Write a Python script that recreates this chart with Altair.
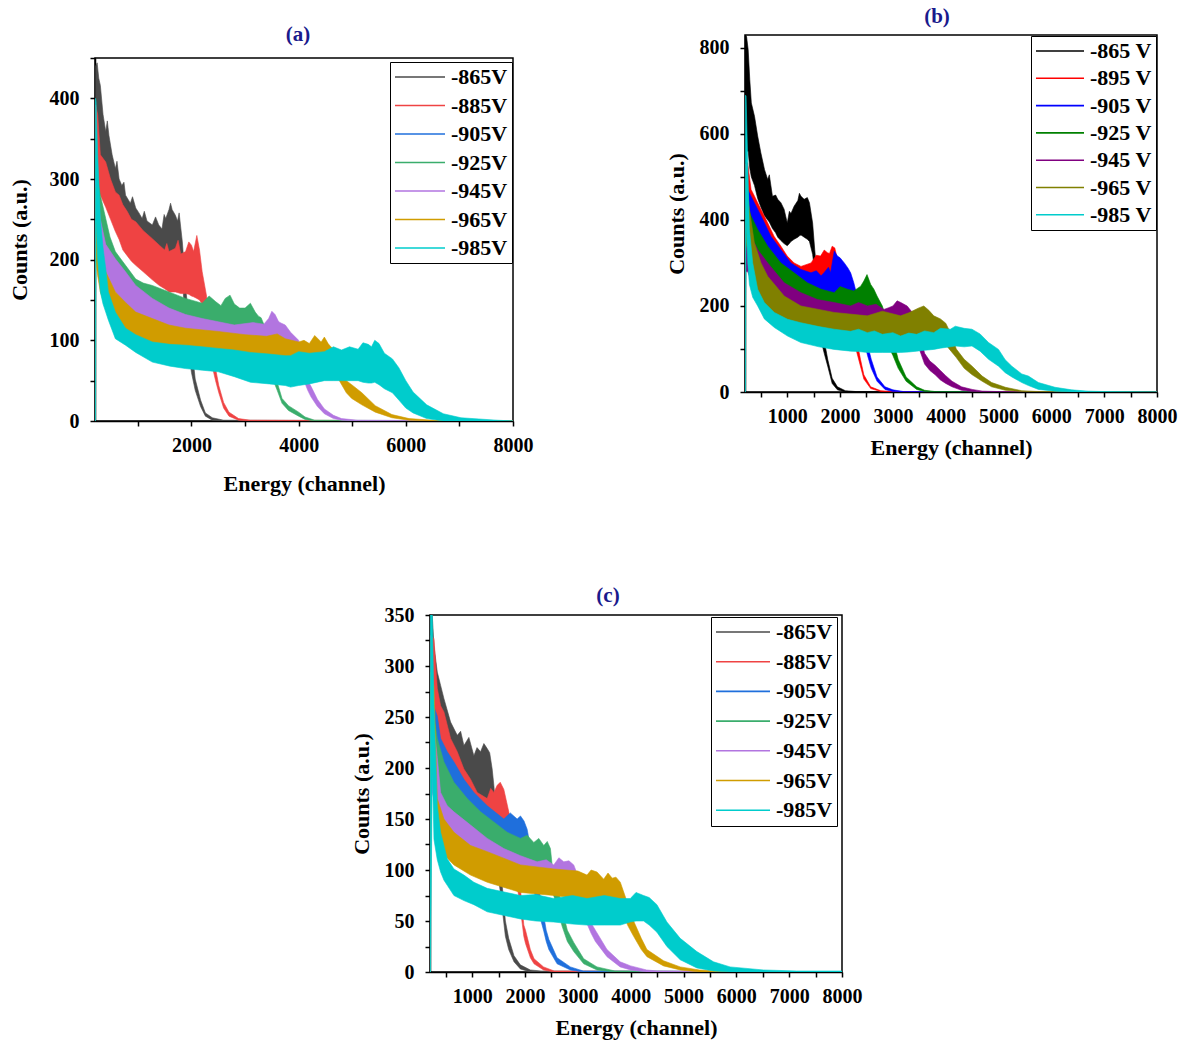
import altair as alt
import pandas as pd

FONT = "Liberation Serif"

LABELS_AC = ["-865V", "-885V", "-905V", "-925V", "-945V", "-965V", "-985V"]
LABELS_B = ["-865 V", "-895 V", "-905 V", "-925 V", "-945 V", "-965 V", "-985 V"]
COLORS_AC = ["#4a4a4a", "#ef4343", "#1f6fdc", "#3aad6c", "#b275e0", "#d09c00", "#00cccc"]
COLORS_B = ["#000000", "#ff0000", "#0000ff", "#008000", "#800080", "#808000", "#00cccc"]

# rows: (channel, lower edge of noisy band, upper edge of noisy band)
A_865 = [(200,0,0),(212,330,440),(240,330,444),(270,325,425),(300,320,416),(350,300,380),(400,290,359),(430,290,372),(460,285,354),(520,265,330),(580,255,313),(610,250,322),(650,240,300),(700,238,292),(740,230,296),(770,225,280),(860,218,270),(900,214,278),(960,210,264),(1020,205,258),(1080,200,251),(1120,199,260),(1170,198,248),(1270,195,243),(1330,192,253),(1390,190,243),(1450,192,238),(1490,193,256),(1520,195,251),(1580,200,262),(1610,203,270),(1640,205,262),(1700,200,255),(1740,197,248),(1770,195,258),(1830,175,222),(1900,110,160),(2000,60,95),(2070,38,52),(2170,18,26),(2260,6,10),(2390,1,4),(2600,0,1),(8000,0,0)]
A_885 = [(200,0,0),(212,300,392),(250,290,380),(300,280,330),(400,265,321),(490,250,300),(580,235,284),(650,225,280),(720,212,268),(800,205,260),(880,198,250),(960,193,247),(1100,185,236),(1270,175,226),(1400,168,218),(1500,164,212),(1540,162,220),(1580,160,210),(1700,160,214),(1750,159,224),(1800,158,207),(1890,158,210),(1950,157,222),(2000,155,218),(2040,154,210),(2100,152,230),(2150,150,212),(2200,145,185),(2290,110,152),(2380,70,95),(2450,50,65),(2510,35,44),(2600,16,23),(2700,6,11),(2880,1,3),(3100,0,1),(8000,0,0)]
A_905 = []
A_925 = [(200,0,0),(212,240,330),(250,230,300),(300,215,280),(400,200,251),(480,185,228),(580,170,210),(770,155,193),(960,140,176),(1100,135,171),(1270,130,168),(1580,120,160),(1890,115,152),(2200,110,146),(2330,109,155),(2450,108,148),(2550,109,143),(2630,110,152),(2720,108,156),(2800,105,145),(2900,103,140),(3000,100,140),(3100,98,146),(3190,95,135),(3250,93,130),(3300,90,128),(3400,80,112),(3500,55,76),(3600,38,48),(3690,22,28),(3810,13,19),(4000,6,11),(4120,2,5),(4300,0,1),(8000,0,0)]
A_945 = [(200,0,0),(212,220,300),(250,210,280),(300,190,250),(400,175,219),(580,160,201),(770,145,185),(960,130,168),(1270,115,152),(1580,105,140),(1890,100,132),(2200,95,127),(2500,92,123),(2800,90,119),(3150,88,122),(3350,89,120),(3440,90,127),(3500,91,136),(3560,92,132),(3620,90,124),(3650,88,122),(3750,85,119),(3850,80,110),(4000,72,100),(4100,50,70),(4170,38,50),(4230,30,43),(4350,18,27),(4480,9,15),(4650,3,7),(4800,1,3),(5100,0,1),(8000,0,0)]
A_965 = [(200,0,0),(212,200,290),(250,180,250),(300,160,215),(400,140,185),(580,125,160),(770,112,147),(960,103,135),(1270,95,127),(1580,88,119),(1890,85,115),(2500,80,111),(3000,78,107),(3400,75,105),(3600,73,108),(3750,72,102),(4000,70,98),(4100,70,100),(4200,71,96),(4300,72,106),(4420,70,98),(4480,68,104),(4550,66,96),(4600,64,92),(4660,62,89),(4760,50,76),(4890,35,50),(4990,28,45),(5180,20,35),(5430,11,19),(5740,4,8),(6060,1,3),(6500,0,1),(8000,0,0)]
A_985 = [(200,0,0),(210,0,400),(220,250,396),(250,200,330),(300,160,251),(350,145,215),(400,135,189),(450,125,160),(580,102,135),(770,94,115),(960,85,107),(1270,73,98),(1600,68,95),(1890,65,94),(2200,63,92),(2500,61,90),(2800,55,88),(3100,48,85),(3450,46,83),(3750,44,81),(3850,42,81),(4000,44,86),(4200,46,84),(4480,50,86),(4650,50,92),(4800,50,88),(4950,50,92),(5110,50,89),(5200,48,97),(5300,47,95),(5360,47,92),(5420,48,100),(5500,45,96),(5600,40,84),(5750,35,77),(5870,26,66),(6000,16,50),(6135,10,36),(6390,3,20),(6700,0,9),(7030,0,4),(7700,0,1),(8000,0,0)]

B_865 = [(200,0,0),(210,500,830),(230,560,826),(260,560,796),(290,520,727),(320,500,672),(380,480,641),(440,450,595),(500,430,556),(570,410,517),(630,400,494),(660,395,505),(720,380,455),(780,370,458),(820,360,448),(880,352,440),(940,345,425),(1000,340,393),(1040,345,420),(1070,350,415),(1130,355,432),(1200,360,445),(1230,363,462),(1260,365,455),(1320,360,448),(1380,355,452),(1420,350,440),(1480,320,393),(1520,280,331),(1580,200,250),(1660,110,140),(1700,90,120),(1766,60,76),(1850,20,32),(1950,5,12),(2100,0,3),(2300,0,1),(8000,0,0)]
B_895 = [(200,0,0),(212,380,530),(250,400,533),(315,390,471),(380,380,455),(440,360,440),(500,340,425),(630,320,393),(750,290,362),(880,270,339),(1000,255,316),(1130,245,300),(1260,235,292),(1450,240,300),(1550,245,318),(1630,250,316),(1700,252,330),(1760,255,324),(1800,257,322),(1850,260,339),(1900,255,335),(1950,250,308),(2010,240,285),(2080,210,260),(2200,150,190),(2300,100,130),(2386,60,76),(2450,30,40),(2580,8,12),(2770,1,3),(3000,0,1),(8000,0,0)]
B_905 = [(200,0,0),(212,350,470),(250,360,471),(315,350,455),(440,330,425),(570,310,393),(690,290,362),(880,265,331),(1070,240,300),(1260,228,285),(1450,220,277),(1550,218,282),(1640,215,270),(1700,214,278),(1780,215,290),(1820,215,277),(1890,230,328),(1950,225,316),(2000,223,312),(2080,220,300),(2150,215,288),(2200,210,277),(2260,195,254),(2350,160,210),(2450,120,150),(2520,85,110),(2590,55,76),(2700,25,35),(2850,6,12),(3000,1,5),(3200,0,1),(8000,0,0)]
B_925 = [(200,0,0),(212,320,430),(250,320,432),(315,300,409),(440,280,378),(630,250,339),(880,220,300),(1130,200,277),(1380,185,254),(1640,175,239),(1890,170,231),(2000,170,245),(2140,170,239),(2260,171,235),(2390,172,246),(2450,173,258),(2510,175,273),(2580,172,250),(2640,170,239),(2700,160,223),(2800,140,200),(2900,110,160),(3000,85,125),(3100,55,76),(3250,25,35),(3450,6,12),(3600,1,4),(3800,0,1),(8000,0,0)]
B_945 = [(200,0,0),(212,280,390),(250,280,394),(315,260,362),(440,240,331),(630,220,300),(940,185,254),(1260,170,231),(1570,160,215),(1890,155,208),(2200,150,200),(2350,149,208),(2520,148,200),(2680,146,204),(2830,145,192),(2920,147,196),(3000,148,200),(3080,149,212),(3150,150,208),(3270,145,200),(3400,130,180),(3500,100,140),(3600,65,90),(3700,50,72),(3800,40,62),(3900,28,50),(4000,20,38),(4120,12,25),(4300,4,12),(4500,1,6),(4700,0,2),(5000,0,1),(8000,0,0)]
B_965 = [(200,0,0),(212,350,500),(250,330,470),(283,300,425),(377,250,347),(503,215,300),(629,195,269),(943,165,223),(1258,150,200),(1887,135,185),(2516,130,177),(2800,128,188),(3145,125,177),(3300,127,184),(3480,128,195),(3585,130,200),(3680,128,190),(3774,125,177),(3900,120,170),(4000,110,160),(4100,95,135),(4200,80,100),(4350,55,76),(4500,40,60),(4690,25,37),(4870,12,22),(5130,4,11),(5440,1,3),(5750,0,1),(8000,0,0)]
B_985 = [(200,0,0),(210,0,690),(220,400,688),(252,300,533),(283,250,378),(346,220,300),(440,200,239),(566,170,208),(755,150,185),(1006,130,169),(1258,115,161),(1600,105,152),(1887,99,146),(2200,95,141),(2350,94,146),(2516,92,138),(2650,92,142),(2800,92,134),(3000,92,138),(3145,92,130),(3300,93,137),(3450,95,134),(3600,97,142),(3774,99,138),(3900,102,148),(4088,105,146),(4182,107,153),(4350,105,148),(4497,107,146),(4650,95,135),(4811,76,115),(5000,60,99),(5126,45,75),(5252,35,60),(5440,22,42),(5566,15,37),(5755,6,22),(6069,2,11),(6384,0,5),(6698,0,2),(7000,0,1),(8000,0,0)]

C_865 = [(200,0,0),(212,280,350),(243,290,350),(275,270,320),(338,245,294),(401,230,281),(464,220,268),(590,195,245),(716,185,232),(780,180,236),(842,175,222),(936,180,230),(1031,165,212),(1090,168,220),(1157,170,216),(1220,170,224),(1283,170,219),(1330,165,215),(1377,160,199),(1409,140,183),(1480,100,140),(1550,70,95),(1627,35,50),(1690,22,33),(1790,10,16),(1910,3,7),(2100,0,2),(2300,0,1),(8000,0,0)]
C_885 = [(200,0,0),(212,250,330),(275,260,327),(338,220,278),(401,210,261),(464,205,255),(590,185,229),(716,170,216),(842,158,199),(968,150,189),(1094,140,176),(1283,135,170),(1350,138,180),(1409,140,176),(1472,145,183),(1530,142,186),(1598,140,179),(1692,125,157),(1780,100,130),(1880,75,100),(1976,35,46),(2008,28,41),(2100,14,22),(2170,8,13),(2350,2,5),(2550,0,1),(8000,0,0)]
C_905 = [(200,0,0),(212,200,280),(275,200,260),(338,190,251),(401,180,229),(527,170,216),(653,160,206),(842,145,189),(1031,135,176),(1283,125,163),(1598,115,150),(1720,112,156),(1850,110,150),(1913,112,153),(1980,108,148),(2039,105,140),(2071,100,131),(2150,85,115),(2250,60,85),(2354,40,55),(2400,30,41),(2450,22,32),(2606,8,14),(2858,2,5),(3100,0,1),(8000,0,0)]
C_925 = [(200,0,0),(212,180,260),(275,180,250),(338,170,229),(464,155,206),(653,140,186),(905,125,170),(1157,115,157),(1409,108,147),(1661,100,137),(1913,95,131),(2040,93,134),(2165,92,127),(2260,92,131),(2354,92,124),(2420,91,128),(2480,90,121),(2512,80,105),(2600,65,90),(2700,45,62),(2800,30,41),(2921,20,29),(3110,8,13),(3362,2,5),(3700,0,1),(8000,0,0)]
C_945 = [(200,0,0),(212,180,255),(275,170,240),(338,150,210),(401,130,176),(527,120,163),(653,115,157),(968,105,144),(1283,95,131),(1598,88,121),(1913,82,114),(2228,80,108),(2400,79,110),(2543,78,105),(2640,79,112),(2732,80,108),(2830,79,109),(2921,78,105),(3047,65,88),(3150,50,65),(3250,38,48),(3331,30,41),(3551,15,22),(3800,5,10),(4000,2,6),(4300,0,2),(4500,0,1),(8000,0,0)]
C_965 = [(200,0,0),(212,200,294),(275,190,280),(338,130,170),(464,115,150),(653,105,137),(968,95,124),(1283,88,118),(1913,78,105),(2543,75,101),(3000,72,99),(3173,70,95),(3250,71,100),(3362,72,98),(3488,68,91),(3570,67,97),(3650,68,92),(3720,65,93),(3803,62,88),(3950,45,66),(4055,35,50),(4200,22,33),(4307,15,22),(4622,6,11),(4937,2,5),(5300,0,2),(5600,0,1),(8000,0,0)]
C_985 = [(200,0,0),(210,0,350),(243,200,350),(275,130,261),(338,110,163),(401,98,137),(464,90,124),(527,85,111),(653,75,101),(842,70,95),(1031,66,88),(1283,59,82),(1913,52,75),(2200,50,76),(2543,49,72),(2900,47,75),(3173,46,72),(3500,46,75),(3803,46,72),(3992,49,72),(4100,50,78),(4244,50,75),(4350,46,73),(4496,39,66),(4685,25,49),(4937,12,33),(5252,4,20),(5567,1,10),(5882,0,5),(6512,0,2),(7142,0,1),(8000,0,1)]

SERIES_A = [A_865, A_885, A_905, A_925, A_945, A_965, A_985]
SERIES_B = [B_865, B_895, B_905, B_925, B_945, B_965, B_985]
SERIES_C = [C_865, C_885, C_905, C_925, C_945, C_965, C_985]

X_TICKS_A = list(range(1000, 8001, 1000))
X_TICKS_BC = list(range(500, 8001, 500))
Y_TICKS_A = list(range(0, 451, 50))
Y_TICKS_B = list(range(0, 801, 100))
Y_TICKS_C = list(range(0, 351, 25))

TITLE_STYLE = dict(font=FONT, fontSize=21, fontWeight="bold", color="#1a1a8c",
                   anchor="middle")


def panel(name, labels, colors, series, ymax, yticks, ystep, xticks, xstep,
          w, h, leg, ytp, xtp, title=None, tdx=0, toff=8):
    field = "s_" + name
    scale = alt.Scale(domain=labels, range=colors)
    L = leg["sym"]

    def make_legend():
        return alt.Legend(
            orient="none", legendX=leg["x"], legendY=leg["y"], title=None,
            direction="vertical", symbolType=f"M-{L / 20.0},0H{L / 20.0}",
            symbolSize=400, symbolOffset=L / 2 - 10,
            symbolStrokeWidth=1.6, labelFont=FONT, labelFontSize=22,
            labelFontWeight="bold", labelColor="black",
            labelOffset=L / 2 - 5,
            padding=4, rowPadding=leg["rp"], strokeColor="black",
            fillColor="white", labelLimit=300,
        )

    xaxis = alt.Axis(
        values=xticks, format="d",
        labelExpr=f"datum.value % {xstep} == 0 ? datum.label : ''",
        tickSize=5, labelPadding=9, titlePadding=xtp, labelFlush=False,
        labelOverlap=False,
    )
    yaxis = alt.Axis(
        values=yticks, format="d",
        labelExpr=f"datum.value % {ystep} == 0 ? datum.label : ''",
        tickSize=5, labelPadding=11, titlePadding=ytp, labelFlush=False,
        labelOverlap=False,
    )
    layers = []
    for lab, rows in zip(labels, series):
        if not rows:
            continue
        df = pd.DataFrame(sorted(rows), columns=["x", "lo", "hi"])
        df[field] = lab
        layers.append(
            alt.Chart(df).mark_area(opacity=1, strokeWidth=0.6, clip=True).encode(
                x=alt.X("x:Q", title="Energy (channel)",
                        scale=alt.Scale(domain=[200, 8000], nice=False, zero=False),
                        axis=xaxis),
                y=alt.Y("hi:Q", title="Counts (a.u.)",
                        scale=alt.Scale(domain=[0, ymax], nice=False),
                        axis=yaxis),
                y2="lo:Q",
                fill=alt.Fill(f"{field}:N", scale=scale, legend=make_legend()),
                stroke=alt.Stroke(f"{field}:N", scale=scale, legend=make_legend()),
            )
        )
    props = dict(width=w, height=h)
    if title is not None:
        props["title"] = alt.TitleParams(title, dx=tdx, offset=toff, **TITLE_STYLE)
    return alt.layer(*layers).properties(**props)


def spacer(w, h, title=None, dx=0, dy=0):
    props = dict(width=w, height=h, view=alt.ViewBackground(stroke="transparent"))
    if title is not None:
        props["title"] = alt.TitleParams(title, dx=dx, dy=dy, offset=8, **TITLE_STYLE)
    return alt.Chart(pd.DataFrame({"v": [0]})).mark_point(opacity=0).encode(
        x=alt.value(0), y=alt.value(0), size=alt.value(1)
    ).properties(**props)


IND = dict(x="independent", y="independent", fill="independent", stroke="independent")

pa = panel("a", LABELS_AC, COLORS_AC, SERIES_A, 450, Y_TICKS_A, 100,
           X_TICKS_A, 2000, 418, 363, dict(x=295, y=4, sym=50, rp=6.5), 18, 18)
pb = panel("b", LABELS_B, COLORS_B, SERIES_B, 830, Y_TICKS_B, 200,
           X_TICKS_BC, 1000, 412, 357, dict(x=286, y=1, sym=48, rp=5.3), 11, 11,
           title="(b)", tdx=-14, toff=8)
pc = panel("c", LABELS_AC, COLORS_AC, SERIES_C, 350, Y_TICKS_C, 50,
           X_TICKS_BC, 1000, 412, 357, dict(x=281, y=2, sym=54, rp=7.7), 11, 11,
           title="(c)", tdx=-28, toff=-1)

left = alt.vconcat(spacer(418, 11, title="(a)", dx=-6, dy=18), pa,
                   spacing=0).resolve_scale(**IND)
top = alt.hconcat(left, pb, spacing=130).resolve_scale(**IND)
bottom = alt.hconcat(spacer(253, 1), pc, spacing=0).resolve_scale(**IND)

chart = alt.vconcat(top, bottom, spacing=89).resolve_scale(**IND).properties(
    padding={"left": 7, "top": 5, "right": 5, "bottom": 5},
    background="white",
).configure(font=FONT).configure_view(
    stroke="black", strokeWidth=1.5
).configure_axis(
    domainColor="black", domainWidth=1.5, tickColor="black", tickWidth=1.5,
    labelColor="black", titleColor="black", labelFont=FONT, titleFont=FONT,
    labelFontWeight="bold", titleFontWeight="bold", labelFontSize=20,
    titleFontSize=22, grid=False,
)

chart.save("out.html", embed_options={"renderer": "svg", "actions": False})
